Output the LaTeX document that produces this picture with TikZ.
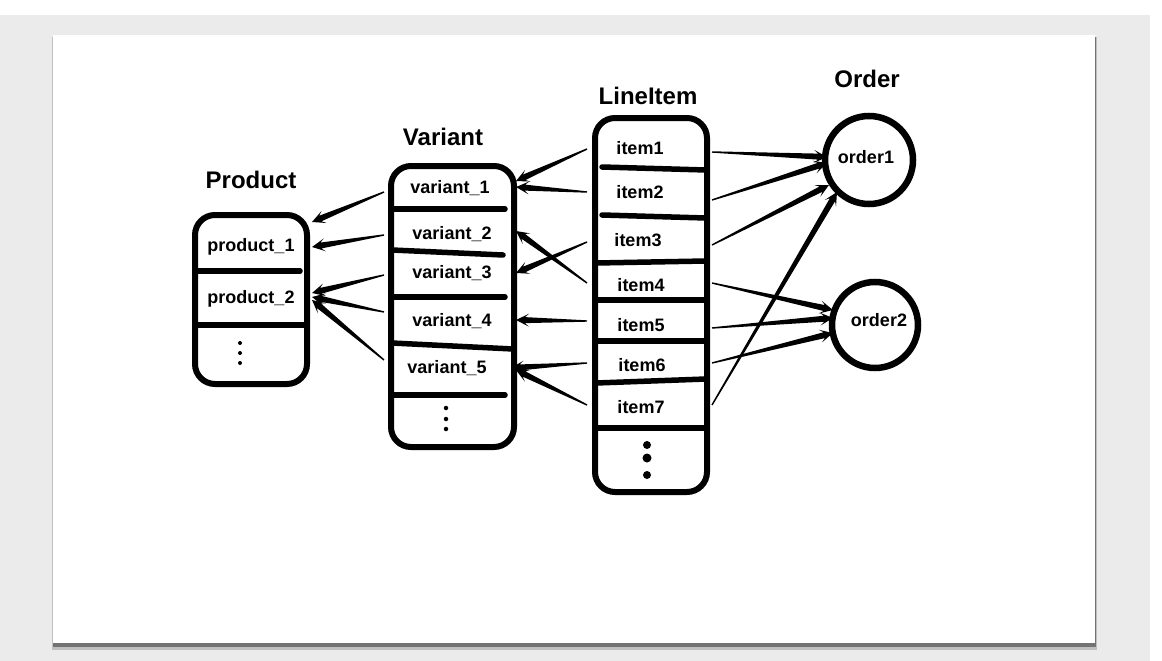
\documentclass[tikz,border=0pt]{standalone}
\usepackage{fontspec}
\setmainfont{Liberation Sans}
\usetikzlibrary{calc}
\newcommand\tapar[2]{%
  \fill let \p1=(#1), \p2=(#2), \n1={atan2(\y2-\y1,\x2-\x1)}, \n2={veclen(\x2-\x1,\y2-\y1)} in
   [shift={(\x1,\y1)}, rotate=\n1]
   (0pt,-0.7pt) -- ({\n2*1pt-9pt},-3pt) -- ({\n2*1pt-13pt},-6.5pt) -- ({\n2*1pt},0pt)
   -- ({\n2*1pt-13pt},6.5pt) -- ({\n2*1pt-9pt},3pt) -- (0pt,0.7pt) -- cycle;}
\begin{document}
\begin{tikzpicture}[x=1pt,y=-1pt,
  box/.style={draw, line width=6pt, rounded corners=20pt, inner sep=0pt},
  ring/.style={draw, circle, line width=6.5pt, inner sep=0pt},
  lbl/.style={font=\bfseries\fontsize{18}{18}\selectfont, inner sep=0pt, anchor=base},
  ttl/.style={font=\bfseries\fontsize{24}{24}\selectfont, inner sep=0pt, anchor=base},
  divider/.style={line width=5.5pt, line cap=round},
  dot/.style={fill, circle, inner sep=0pt}]
\useasboundingbox (0,0) rectangle (1162,661);
% background
\fill[white] (0,0) rectangle (1162,661);
\fill[black!8] (0,15) rectangle (1150,661);
\fill[black!25] (52,37) rectangle (1097,650);
\fill[black!55] (53,37) rectangle (1096,647);
\fill[white] (53,35) rectangle (1095,643);

% boxes
\node[box, minimum width=112pt, minimum height=169pt] (P) at (251,299.5) {};
\node[box, minimum width=123pt, minimum height=281pt] (V) at (452.5,306.5) {};
\node[box, minimum width=112pt, minimum height=374pt] (L) at (651,305) {};
\node[ring, minimum size=88pt] (o1) at (869,160) {};
\node[ring, minimum size=86pt] (o2) at (875,325) {};

% titles
\node[ttl] (tP) at (251,188) {Product};
\node[ttl] (tV) at (443,145) {Variant};
\node[ttl] (tL) at (648,104) {LineItem};
\node[ttl] (tO) at (867,88) {Order};

% dividers
\draw[divider] (196,271) -- (300,271);
\draw[divider] (196,325) -- (306,325);
\draw[divider] (392,209) -- (505,209);
\draw[divider] (392,250) -- (503,255);
\draw[divider] (392,297) -- (505,297);
\draw[divider] (392,343) -- (513,349);
\draw[divider] (392,395) -- (505,395);
\draw[divider] (602,167) -- (706,170);
\draw[divider] (602,215) -- (706,218);
\draw[divider] (596,263) -- (706,261);
\draw[divider] (596,300) -- (706,300);
\draw[divider] (596,341) -- (706,341);
\draw[divider] (596,383) -- (706,379);
\draw[divider] (596,428) -- (706,428);

% labels
\node[lbl] (p1) at (251,251) {product\_1};
\node[lbl] (p2) at (251,303) {product\_2};
\node[lbl] (v1) at (450,193) {variant\_1};
\node[lbl] (v2) at (452,239) {variant\_2};
\node[lbl] (v3) at (452,278) {variant\_3};
\node[lbl] (v4) at (452,326) {variant\_4};
\node[lbl] (v5) at (447,373) {variant\_5};
\node[lbl] (i1) at (640,154) {item1};
\node[lbl] (i2) at (640,198) {item2};
\node[lbl] (i3) at (638,246) {item3};
\node[lbl] (i4) at (641,291) {item4};
\node[lbl] (i5) at (641,331) {item5};
\node[lbl] (i6) at (642,371) {item6};
\node[lbl] (i7) at (641,413) {item7};
\node[lbl] (ol1) at (866,163) {order1};
\node[lbl] (ol2) at (879,326) {order2};

% ellipsis dots
\node[dot, minimum size=4pt] (pd1) at (240,343) {};
\node[dot, minimum size=4pt] (pd2) at (240,353) {};
\node[dot, minimum size=4pt] (pd3) at (240,363) {};
\node[dot, minimum size=4.5pt] (vd1) at (446,408) {};
\node[dot, minimum size=4.5pt] (vd2) at (446,419) {};
\node[dot, minimum size=4.5pt] (vd3) at (446,429) {};
\node[dot, minimum size=8pt] (ld1) at (647,445) {};
\node[dot, minimum size=9pt] (ld2) at (647,458) {};
\node[dot, minimum size=8pt] (ld3) at (647,475) {};

% arrow end points
\coordinate (va1) at (384,192); \coordinate (pa1) at (312,222);
\coordinate (va2) at (384,235); \coordinate (pa2) at (312,247);
\coordinate (va3) at (384,275); \coordinate (pa3) at (312,293);
\coordinate (va4) at (384,312); \coordinate (pa4) at (312,297);
\coordinate (va5) at (384,360); \coordinate (pa5) at (312,300);
\coordinate (ib1) at (587,149); \coordinate (vb1) at (516,181);
\coordinate (ib2) at (587,192); \coordinate (vb2) at (516,187);
\coordinate (ib3) at (587,242); \coordinate (vb3) at (516,273);
\coordinate (ib4) at (587,283); \coordinate (vb4) at (516,231);
\coordinate (ib5) at (587,321); \coordinate (vb5) at (516,320);
\coordinate (ib6) at (587,363); \coordinate (vb6) at (511,368);
\coordinate (ib7) at (587,405); \coordinate (vb7) at (516,370);
\coordinate (ic1) at (712,152); \coordinate (oc1) at (827,157);
\coordinate (ic2) at (712,200); \coordinate (oc2) at (827,163);
\coordinate (ic3) at (712,245); \coordinate (oc3) at (829,185);
\coordinate (ic4) at (712,283); \coordinate (oc4) at (833,310);
\coordinate (ic5) at (712,328); \coordinate (oc5) at (833,318);
\coordinate (ic6) at (712,363); \coordinate (oc6) at (833,333);
\coordinate (ic7) at (712,405); \coordinate (oc7) at (837,192);

% arrows
\foreach \k in {1,...,5}{\tapar{va\k}{pa\k}}
\foreach \k in {1,...,7}{\tapar{ib\k}{vb\k}}
\foreach \k in {1,...,7}{\tapar{ic\k}{oc\k}}
\end{tikzpicture}
\end{document}
